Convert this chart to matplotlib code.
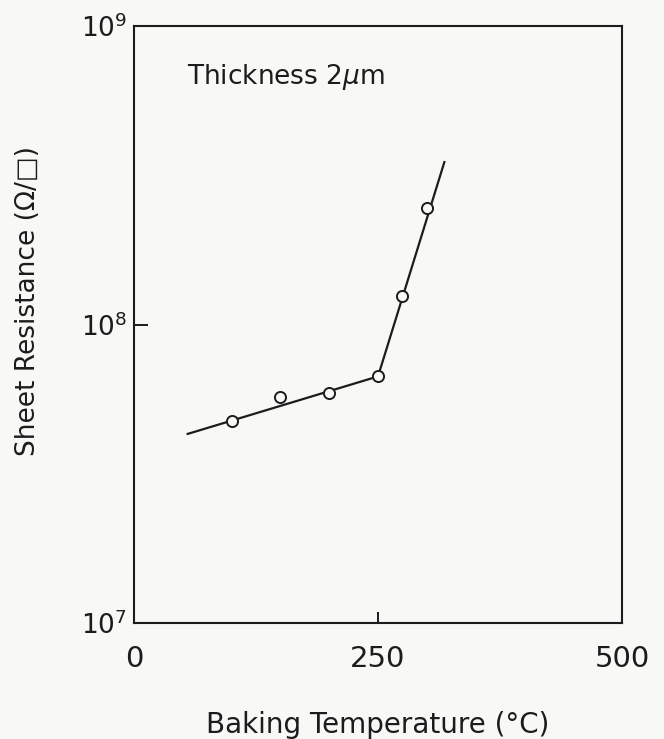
import matplotlib
matplotlib.use('Agg')
import matplotlib.pyplot as plt
from matplotlib.ticker import FixedLocator, FixedFormatter, NullLocator

# ── Data ────────────────────────────────────────────────────────────────
temps = [100, 150, 200, 250, 275, 300]             # baking temperature, °C
sheet_res = [4.75e7, 5.7e7, 5.9e7, 6.7e7, 1.25e8, 2.45e8]  # Ω/□

# hand-drawn fit: two straight segments meeting at the 250 °C knee
fit_t = [55, 250, 318]
fit_r = [4.3e7, 6.7e7, 3.5e8]

x_ticks = [0, 250, 500]
x_labels = ['0', '250', '500']
y_ticks = [1e7, 1e8, 1e9]
y_labels = ['10$^{7}$', '10$^{8}$', '10$^{9}$']

INK = '#1c1c1c'
PAPER = '#f8f8f6'

plt.rcParams['font.family'] = ['DejaVu Sans']
plt.rcParams['mathtext.fontset'] = 'dejavusans'

fig = plt.figure(figsize=(6.64, 7.39), dpi=100)
fig.patch.set_facecolor(PAPER)
ax = fig.add_axes([134 / 664, 1 - 623 / 739, 488 / 664, 597 / 739])
ax.set_facecolor(PAPER)

ax.plot(fit_t, fit_r, color=INK, lw=1.6, zorder=2)
ax.plot(temps, sheet_res, 'o', ms=8, mfc=PAPER, mec=INK, mew=1.4, zorder=3)

ax.set_yscale('log')
ax.set_xlim(0, 500)
ax.set_ylim(1e7, 1e9)

ax.xaxis.set_major_locator(FixedLocator(x_ticks))
ax.xaxis.set_major_formatter(FixedFormatter(x_labels))
ax.yaxis.set_major_locator(FixedLocator(y_ticks))
ax.yaxis.set_major_formatter(FixedFormatter(y_labels))
ax.yaxis.set_minor_locator(NullLocator())

ax.tick_params(axis='both', direction='in', color=INK, width=1.4,
               labelcolor=INK)
ax.tick_params(axis='x', length=8, pad=16, labelsize=21)
ax.tick_params(axis='y', length=10, pad=5, labelsize=19)

for sp in ax.spines.values():
    sp.set_color(INK)
    sp.set_linewidth(1.5)

ax.text(0.108, 0.915, 'Thickness 2$\\mu$m', transform=ax.transAxes,
        fontsize=19, color=INK, ha='left', va='center')

ax.set_xlabel('Baking Temperature (°C)', fontsize=20, color=INK, labelpad=27)
ax.set_ylabel('Sheet Resistance (Ω/□)', fontsize=19, color=INK)
ax.yaxis.set_label_coords(-0.19, 0.54)

fig.savefig('out.png', dpi=100, facecolor=PAPER)
